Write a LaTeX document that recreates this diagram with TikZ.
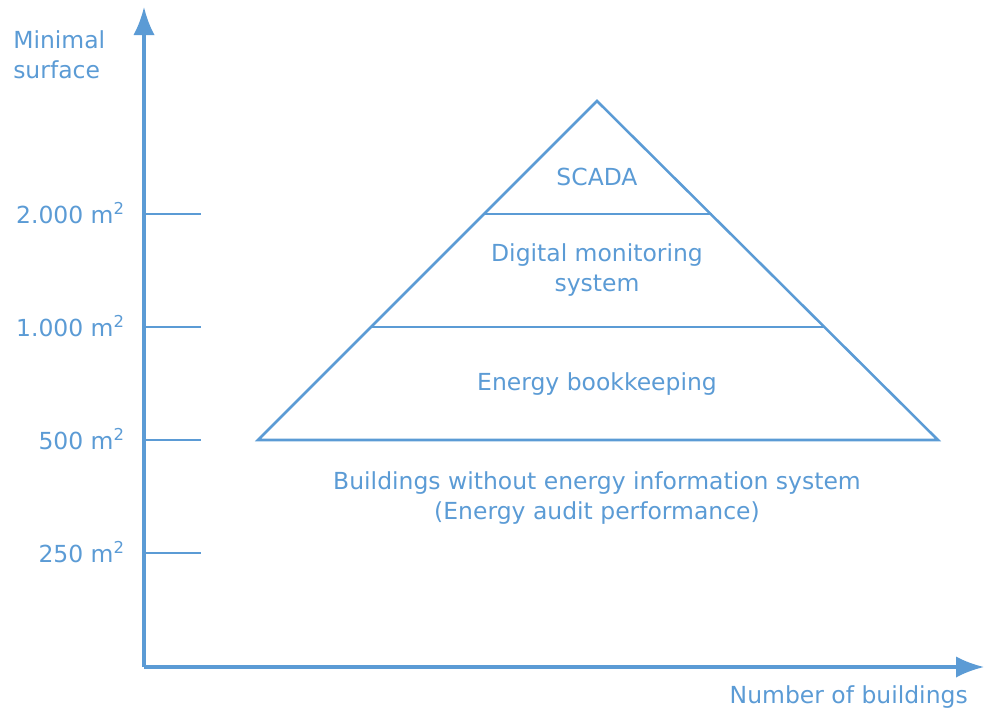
\documentclass[tikz,border=0pt]{standalone}
\usepackage{fontspec}
\usepackage{tikz}
\usepackage{xcolor}
\usetikzlibrary{arrows.meta}
\setmainfont{DejaVu Sans}
\definecolor{officeblue}{HTML}{5B9BD5}

\begin{document}
\begin{tikzpicture}[x=0.75pt, y=-0.75pt,
    axisline/.style={draw=officeblue, line width=2.3pt, -{Latex[length=21pt, width=16pt]}},
    rungline/.style={draw=officeblue, line width=1.9pt},
    lbl/.style={text=officeblue, font=\fontsize{17.6}{22.5}\selectfont, align=center, inner sep=0pt}]
\useasboundingbox (0,0) rectangle (984,711);
% axes
\coordinate (origin) at (144,667);
\coordinate (ytip) at (144,7);
\coordinate (xtip) at (984,667);
\draw[axisline] (origin) -- (ytip);
\draw[axisline] (origin) -- (xtip);
\node[lbl, align=left, anchor=base west] (yname) at (13,78) {Minimal\\surface};
\node[lbl, anchor=base east] (xname) at (968,703) {Number of buildings};
% ticks on the surface axis
\foreach \ypos/\val [count=\i] in {214/2.000, 327/1.000, 440/500, 553/250}{
    \coordinate (tick\i) at (144,\ypos);
    \coordinate (tickend\i) at (201,\ypos);
    \draw[rungline] (tick\i) -- (tickend\i);
    \node[lbl, anchor=base east] (ticklbl\i) at (125,\ypos+9) {\val{} m\textsuperscript{2}};
}
% pyramid
\coordinate (apex) at (597,101);
\coordinate (baseL) at (258,440);
\coordinate (baseR) at (938,440);
\coordinate (topL) at (484,214);
\coordinate (topR) at (712,214);
\coordinate (midL) at (371,327);
\coordinate (midR) at (825,327);
\draw[rungline, line join=miter] (baseL) -- (apex) -- (baseR) -- cycle;
\draw[rungline] (topL) -- (topR);
\draw[rungline] (midL) -- (midR);
\node[lbl] (scada) at (597,177) {SCADA};
\node[lbl] (monitor) at (597,270) {Digital monitoring\\system};
\node[lbl] (bookkeep) at (597,384) {Energy bookkeeping};
\node[lbl] (nosystem) at (597,498) {Buildings without energy information system\\(Energy audit performance)};
\end{tikzpicture}
\end{document}
